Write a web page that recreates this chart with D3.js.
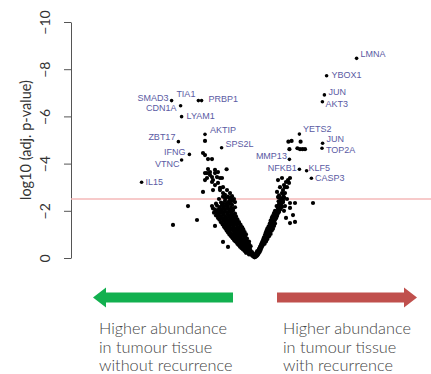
<!DOCTYPE html>
<html>
<head>
<meta charset="utf-8">
<script src="https://cdn.jsdelivr.net/npm/d3@7"></script>
<style>
  body { margin: 0; background: #fff; }
  svg { display: block; }
</style>
</head>
<body>
<div id="chart"></div>
<script>
// y axis ticks and the significance cut-off (log10 adj. p-value)
const yTicks = [0, -2, -4, -6, -8, -10];
const threshold = -2.5;

// labelled genes: fold change (arbitrary log units) and log10 adj. p-value
const genes  = ["LMNA", "YBOX1", "JUN", "AKT3", "YETS2", "JUN", "TOP2A", "MMP13", "NFKB1", "KLF5", "CASP3",
                "SMAD3", "TIA1", "PRBP1", "CDN1A", "LYAM1", "AKTIP", "ZBT17", "SPS2L", "IFNG", "VTNC", "IL15"];
const geneFC = [5.08, 3.58, 3.47, 3.37, 2.22, 3.38, 3.35, 1.72, 2.22, 2.58, 2.82,
                -4.17, -2.83, -2.67, -3.72, -3.67, -2.5, -3.83, -1.67, -3.28, -3.67, -5.67];
const geneP  = [-8.46, -7.72, -6.91, -6.62, -5.25, -4.86, -4.65, -4.18, -3.76, -3.70, -3.38,
                -6.67, -6.67, -6.67, -6.45, -5.99, -5.24, -4.93, -4.67, -4.39, -4.15, -3.21];

// all other proteins [fold change, log10 adj. p-value]
const cloud = [
  [-0.02,-0.03],[0.03,-0.05],[-0.08,-0.06],[0.08,-0.08],[-0.13,-0.1],[0.12,-0.12],[-0.18,-0.14],[-0.05,-0.12],
  [0.16,-0.17],[-0.23,-0.18],[-0.1,-0.18],[0.2,-0.22],[-0.28,-0.22],[-0.15,-0.25],[0.05,-0.2],[0.24,-0.27],
  [-0.33,-0.27],[-0.22,-0.3],[-0.4,-0.3],[0.1,-0.28],
  [-0.38,-0.35],[-0.48,-0.36],[-0.25,-0.38],[0.28,-0.34],[0.2,-0.38],[-0.55,-0.42],[-0.42,-0.44],[-0.3,-0.46],
  [0.32,-0.42],[0.25,-0.47],[-0.62,-0.48],[-0.5,-0.52],[-0.36,-0.54],[-0.22,-0.5],[0.36,-0.5],[0.3,-0.55],
  [-0.7,-0.55],[-0.58,-0.58],[-0.44,-0.6],[-0.3,-0.6],[0.4,-0.58],[0.33,-0.62],[0.48,-0.6],[-0.78,-0.62],
  [-0.65,-0.65],[-0.52,-0.66],[-0.38,-0.68],[0.44,-0.66],[0.37,-0.7],[-0.9,-0.66],[-0.6,-0.72],[-0.72,-0.7],
  [-0.85,-0.75],[-0.46,-0.75],[-0.68,-0.78],[0.48,-0.74],[0.41,-0.78],[0.55,-0.78],[-0.95,-0.82],[-0.78,-0.84],
  [-0.56,-0.82],[-0.4,-0.82],[0.52,-0.84],[0.45,-0.88],[0.6,-0.86],[-1.05,-0.9],[-0.88,-0.92],[-0.7,-0.9],
  [-0.5,-0.92],[0.56,-0.94],[0.5,-0.98],[0.65,-0.95],[-1.12,-0.98],[-0.95,-1.0],[-0.78,-1.0],[-0.6,-1.0],
  [-0.45,-1.0],[0.6,-1.04],[0.54,-1.08],[0.7,-1.04],[-1.2,-1.06],[-1.02,-1.08],[-0.85,-1.08],[-0.68,-1.1],
  [-0.52,-1.1],[0.65,-1.12],[0.58,-1.16],[0.75,-1.12],[-1.28,-1.14],[-1.1,-1.16],[-0.92,-1.18],[-0.75,-1.18],
  [-0.58,-1.2],[0.7,-1.2],[0.62,-1.25],[0.8,-1.22],[-1.35,-1.22],[-1.18,-1.25],[-1.0,-1.26],[-0.82,-1.28],
  [-0.64,-1.3],[0.74,-1.3],[0.85,-1.3],[0.68,-1.34],
  [-1.6,-0.68],[-1.35,-0.47],[-2.0,-1.36],[-2.9,-1.61],[-4.1,-1.4],[-3.35,-2.2],[-2.6,-2.8],
  [2.9,-2.33],[2.0,-2.33],[1.75,-2.33],[2.0,-1.53],[1.75,-1.48],[1.9,-1.82],[1.75,-2.12],[1.4,-2.37],[1.35,-2.16],
  [-1.42,-1.35],[-1.25,-1.38],[-1.08,-1.38],[-0.9,-1.4],[-0.72,-1.4],[0.8,-1.4],[0.9,-1.42],[0.74,-1.46],
  [-1.5,-1.46],[-1.32,-1.5],[-1.15,-1.5],[-0.98,-1.52],[-0.8,-1.52],[0.85,-1.52],[0.95,-1.55],[-1.58,-1.58],
  [-1.4,-1.6],[-1.22,-1.62],[-1.05,-1.62],[-0.88,-1.64],[0.9,-1.62],[1.02,-1.66],[0.84,-1.7],[-1.68,-1.7],
  [-1.48,-1.72],[-1.3,-1.74],[-1.12,-1.74],[-0.95,-1.76],[1.0,-1.74],[1.1,-1.78],[-1.8,-1.8],[-1.58,-1.84],
  [-1.38,-1.86],[-1.2,-1.86],[-1.0,-1.88],[1.05,-1.86],[0.95,-1.9],[1.15,-1.92],[-1.9,-1.92],[-1.7,-1.96],
  [-1.5,-1.98],[-1.3,-1.98],[-1.1,-2.0],[1.1,-1.98],[1.22,-2.02],
  [-2.0,-2.05],[-1.8,-2.08],[-1.6,-2.1],[-1.4,-2.12],[-1.2,-2.12],[-1.0,-2.15],[1.15,-2.1],[1.25,-2.16],
  [1.08,-2.2],[-2.15,-2.2],[-1.9,-2.22],[-1.65,-2.25],[-1.45,-2.25],[-1.25,-2.3],[1.2,-2.28],[1.32,-2.32],
  [-1.7,-2.35],[-1.3,-2.4],[-1.5,-2.42],[-1.1,-2.42],[1.25,-2.4],[1.4,-2.45],[-1.25,-2.52],[-1.05,-2.5],
  [-1.45,-2.55],[1.3,-2.52],[1.45,-2.56],[-1.6,-2.6],[-1.15,-2.62],
  [-2.1,-2.88],[-1.75,-2.88],[-1.6,-2.75],[-1.25,-2.75],[-1.5,-2.54],[-1.25,-2.37],[-1.0,-2.37],
  [-2.15,-3.22],[-2.0,-3.09],[-1.85,-3.18],[-1.75,-2.97],[-1.6,-3.0],[-1.4,-2.88],
  [1.1,-2.8],[1.25,-3.0],[1.5,-3.0],[1.35,-2.75],[1.15,-2.58],[1.25,-2.54],[1.4,-2.88],[1.6,-3.0],
  [1.7,-3.18],[1.75,-3.39],[1.65,-3.3],[1.55,-3.22],[1.45,-3.09],[1.15,-3.3],[1.35,-3.39],
  [-2.5,-3.6],[-2.4,-3.6],[-2.25,-3.64],[-2.0,-3.6],[-1.9,-3.43],[-2.4,-3.39],[-2.15,-3.43],[-1.65,-3.39],
  [-1.42,-3.76],[-2.35,-3.77],[-2.0,-3.73],[-1.75,-3.39],[-2.25,-3.52],[-2.1,-3.3],[-2.5,-3.3],[-1.85,-3.64],
  [-2.6,-4.45],[-2.5,-4.36],[-2.35,-4.19],[-2.15,-4.19],[-2.5,-4.96],
  [1.67,-4.93],[1.83,-4.96],[2.28,-4.93],[1.72,-4.61],[2.12,-4.65],[2.25,-4.61],[2.38,-4.61],[2.5,-4.61],
  // denser left arm
  [-0.3,-0.15],[-0.45,-0.22],[-0.52,-0.3],[-0.6,-0.36],[-0.68,-0.42],[-0.75,-0.48],[-0.82,-0.55],[-0.88,-0.6],
  [-0.98,-0.7],[-1.05,-0.76],[-1.12,-0.84],[-1.2,-0.92],[-1.28,-1.0],[-1.35,-1.08],[-1.42,-1.16],[-1.48,-1.25],
  [-1.55,-1.32],[-1.62,-1.42],[-1.7,-1.52],[-1.78,-1.62],[-1.85,-1.7],[-1.95,-1.8],[-2.05,-1.92],[-2.1,-2.1],
  [-0.3,-0.7],[-0.55,-0.95],[-0.65,-1.18],[-0.85,-1.2],[-1.05,-1.2],[-0.7,-1.32],[-0.9,-1.3],[-1.1,-1.3],
  [-1.3,-1.3],[-0.8,-1.46],[-1.0,-1.44],[-1.2,-1.44],[-1.4,-1.44],[-0.9,-1.58],[-1.1,-1.56],[-1.3,-1.56],
  [-1.5,-1.56],[-1.0,-1.7],[-1.2,-1.68],[-1.4,-1.66],[-1.6,-1.66],[-1.1,-1.82],[-1.3,-1.8],[-1.5,-1.78],
  [-1.7,-1.78],[-1.2,-1.94],[-1.4,-1.92],[-1.6,-1.9],[-1.8,-1.9],[-1.1,-2.08],[-1.3,-2.05],[-1.5,-2.04],
  [-1.7,-2.02],[-1.9,-2.0],[-1.35,-2.2],[-1.55,-2.18],[-1.75,-2.16],[-1.15,-2.25],[-1.4,-2.32],[-1.6,-2.32],
  [-1.2,-2.48],[-1.35,-2.6],[-1.5,-2.68],[-1.8,-2.5],[-1.95,-2.3],
  // denser right arm
  [0.15,-0.3],[0.22,-0.4],[0.28,-0.5],[0.35,-0.56],[0.42,-0.64],[0.46,-0.72],[0.5,-0.8],[0.58,-0.9],
  [0.62,-0.98],[0.66,-1.08],[0.72,-1.16],[0.76,-1.25],[0.8,-1.34],[0.86,-1.45],[0.92,-1.5],[0.98,-1.6],
  [1.06,-1.7],[1.12,-1.84],[1.2,-1.95],[1.28,-2.08],[1.3,-2.22],[1.38,-2.36],[1.42,-2.62],[1.5,-2.75],
  [1.2,-2.65],[0.55,-0.7],[0.62,-0.8],[0.7,-0.92],[0.78,-1.02],[0.84,-1.16],[0.9,-1.24],[0.95,-1.36],
  [1.0,-1.46],[0.78,-1.58],[0.88,-1.78],[1.0,-2.0],[1.18,-2.4],[1.5,-2.2],[1.6,-2.5],[1.55,-1.7],[1.45,-2.0]
];

// text under the two arrows
const leftNote  = ["Higher abundance", "in tumour tissue", "without recurrence"];
const rightNote = ["Higher abundance", "in tumour tissue", "with recurrence"];

// where each gene label sits next to its dot: [dx, dy of text centre, anchor]
const labelOffsets = [
  [4, -4.5, "start"], [5, -1, "start"], [4, -3.3, "start"], [3, 2, "start"], [3.5, -5.7, "start"],
  [4, -4.3, "start"], [4, 1.7, "start"], [-2.5, -3.3, "end"], [-2.7, -1.7, "end"], [2, -2.4, "start"],
  [3.7, 0, "start"], [-3, -2.7, "end"], [-3, -6.7, "end"], [7, -1.4, "start"], [-4, 2.3, "end"],
  [5, -0.7, "start"], [5, -4.3, "start"], [-3, -5, "end"], [4, -3.7, "start"], [-4, -2.6, "end"],
  [-2, 4, "end"], [4, 0, "start"]
];

const W = 431, H = 374;
const textFont = "Lato, 'Open Sans', sans-serif";

const svg = d3.select("#chart").append("svg")
  .attr("width", W)
  .attr("height", H);

const x = d3.scaleLinear().domain([-6, 6]).range([135, 375]);
const y = d3.scaleLinear().domain([0, -10]).range([258, 22]);

// y axis
const yAxis = svg.append("g")
  .attr("transform", "translate(71,0)")
  .call(d3.axisLeft(y).tickValues(yTicks).tickSize(7).tickSizeOuter(0)
    .tickFormat(d => d === 0 ? "0" : "\u2212" + Math.abs(d)));

yAxis.select(".domain").attr("stroke", "#555");
yAxis.selectAll(".tick line").attr("stroke", "#555");
yAxis.selectAll(".tick text")
  .attr("transform", "rotate(-90)")
  .attr("x", 0)
  .attr("y", -21)
  .attr("dy", 0)
  .attr("text-anchor", "middle")
  .style("font-family", textFont)
  .style("font-size", "14px")
  .attr("fill", "#333");

svg.append("text")
  .attr("transform", "translate(31,140) rotate(-90)")
  .attr("text-anchor", "middle")
  .style("font-family", textFont)
  .style("font-size", "14.5px")
  .attr("fill", "#333")
  .text("log10 (adj. p-value)");

// significance line
svg.append("line")
  .attr("x1", 71).attr("x2", W)
  .attr("y1", y(threshold)).attr("y2", y(threshold))
  .attr("stroke", "#f5b8b8")
  .attr("stroke-width", 1.5);

// points
svg.append("g")
  .selectAll("circle")
  .data(cloud)
  .enter()
  .append("circle")
    .attr("cx", d => x(d[0]))
    .attr("cy", d => y(d[1]))
    .attr("r", 2.1)
    .attr("fill", "#000");

const geneData = genes.map((g, i) => ({ name: g, fc: geneFC[i], p: geneP[i], off: labelOffsets[i] }));

svg.append("g")
  .selectAll("circle")
  .data(geneData)
  .enter()
  .append("circle")
    .attr("cx", d => x(d.fc))
    .attr("cy", d => y(d.p))
    .attr("r", 1.8)
    .attr("fill", "#000");

svg.append("g")
  .selectAll("text")
  .data(geneData)
  .enter()
  .append("text")
    .attr("x", d => x(d.fc) + d.off[0])
    .attr("y", d => y(d.p) + d.off[1] + 3.2)
    .attr("text-anchor", d => d.off[2])
    .style("font-family", "'Liberation Sans', Arial, sans-serif")
    .style("font-size", "9px")
    .attr("fill", "#5a5aa3")
    .text(d => d.name);

// arrows
function arrow(x0, x1, cy, color) {
  // x1 is the tip
  const dir = x1 > x0 ? 1 : -1;
  const headLen = 13, shaft = 5, head = 10;
  const hb = x1 - dir * headLen;
  const pts = [[x0, cy - shaft], [hb, cy - shaft], [hb, cy - head], [x1, cy], [hb, cy + head], [hb, cy + shaft], [x0, cy + shaft]];
  svg.append("path")
    .attr("d", d3.line()(pts) + "Z")
    .attr("fill", color);
}
arrow(233, 93, 297.5, "#12b04f");
arrow(277, 417, 297.5, "#c0504d");

function note(lines, x0) {
  const t = svg.append("text")
    .style("font-family", textFont)
    .style("font-size", "16.3px")
    .style("font-weight", 300)
    .attr("fill", "#444");
  lines.forEach((s, i) => {
    t.append("tspan").attr("x", x0).attr("y", 334 + i * 18.5).text(s);
  });
}
note(leftNote, 99);
note(rightNote, 283);
</script>
</body>
</html>
